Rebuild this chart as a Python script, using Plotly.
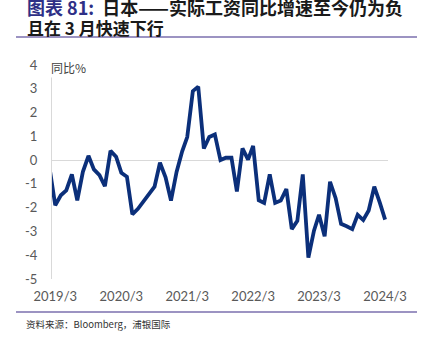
import plotly.graph_objects as go
import pandas as pd

# ---- data ----
start_month = "2019-02-01"
values = [-0.5,
          -1.9, -1.48, -1.27, -0.6, -1.69, -0.49, 0.18, -0.39, -0.63, -1.1,
          0.39, 0.14, -0.53, -0.7, -2.28, -2.05, -1.75, -1.45, -1.12, -0.11, -0.72, -1.7,
          -0.5, 0.37, 0.97, 2.9, 3.09, 0.49, 0.97, 1.08, 0.0, 0.1, 0.1, -1.32,
          0.49, 0.02, 0.6, -1.69, -1.8, -0.6, -1.8, -1.7, -1.22, -2.9, -2.55, -0.6,
          -4.1, -2.97, -2.3, -3.2, -0.91, -1.6, -2.68, -2.78, -2.9, -2.3, -2.52, -2.12,
          -1.12, -1.8, -2.5]
dates = pd.date_range(start_month, periods=len(values), freq="MS")
y_ticks = [4, 3, 2, 1, 0, -1, -2, -3, -4, -5]

title_prefix = "图表&nbsp;81:&nbsp;&nbsp;"
title_line1 = "日本——实际工资同比增速至今仍为负"
title_line2 = "且在 3 月快速下行"
unit_label = "同比%"
source = "资料来源：Bloomberg，浦银国际"

CJK = "Noto Sans CJK SC"
TICKF = "Lato, Open Sans, sans-serif"

fig = go.Figure()
fig.add_trace(go.Scatter(x=dates, y=values, mode="lines",
                         line=dict(color="#0B2F7A", width=3.8),
                         hoverinfo="skip", showlegend=False))

fig.update_layout(
    width=427, height=337,
    margin=dict(l=52, r=39, t=65, b=58),
    paper_bgcolor="white", plot_bgcolor="white",
    xaxis=dict(type="date", range=["2019-02-11", "2024-03-17"],
               tick0="2019-03-01", dtick="M12", tickformat="%Y/%-m",
               showgrid=False, zeroline=False, showline=False,
               ticks="", ticklabelstandoff=8,
               tickfont=dict(family=TICKF, size=13, color="#595959")),
    yaxis=dict(range=[-5, 4], tickvals=y_ticks, ticktext=[str(v) for v in y_ticks],
               showgrid=False, zeroline=True, zerolinecolor="#D9D9D9", zerolinewidth=1,
               showline=True, linecolor="#D9D9D9", linewidth=1,
               ticks="", ticklabelstandoff=11,
               tickfont=dict(family=TICKF, size=13, color="#595959")),
)

def px_x(p):
    return (p - 52) / 336.0

def px_y(p):
    return (279 - p) / 214.0

fig.add_annotation(xref="paper", yref="paper", x=px_x(25), y=px_y(7),
                   xanchor="left", yanchor="middle", showarrow=False,
                   text=f"<span style='color:#2E2F86'><b>{title_prefix}</b></span><b>{title_line1}</b>",
                   font=dict(family=CJK, size=18, color="#1A1A1A"))
fig.add_annotation(xref="paper", yref="paper", x=px_x(25), y=px_y(28),
                   xanchor="left", yanchor="middle", showarrow=False,
                   text=f"<b>{title_line2}</b>",
                   font=dict(family=CJK, size=17, color="#1A1A1A"))
fig.add_annotation(xref="paper", yref="paper", x=px_x(49), y=px_y(68),
                   xanchor="left", yanchor="middle", showarrow=False,
                   text=unit_label, bgcolor="white",
                   font=dict(family=CJK, size=12, color="#404040"))
fig.add_annotation(xref="paper", yref="paper", x=px_x(24), y=px_y(324),
                   xanchor="left", yanchor="middle", showarrow=False,
                   text=source,
                   font=dict(family=CJK, size=9.5, color="#333333"))

for yy in (37, 312):
    fig.add_shape(type="line", xref="paper", yref="paper",
                  x0=px_x(16), x1=px_x(417), y0=px_y(yy), y1=px_y(yy),
                  line=dict(color="#7B6FAE", width=1.3))

fig.write_html("out.html")
